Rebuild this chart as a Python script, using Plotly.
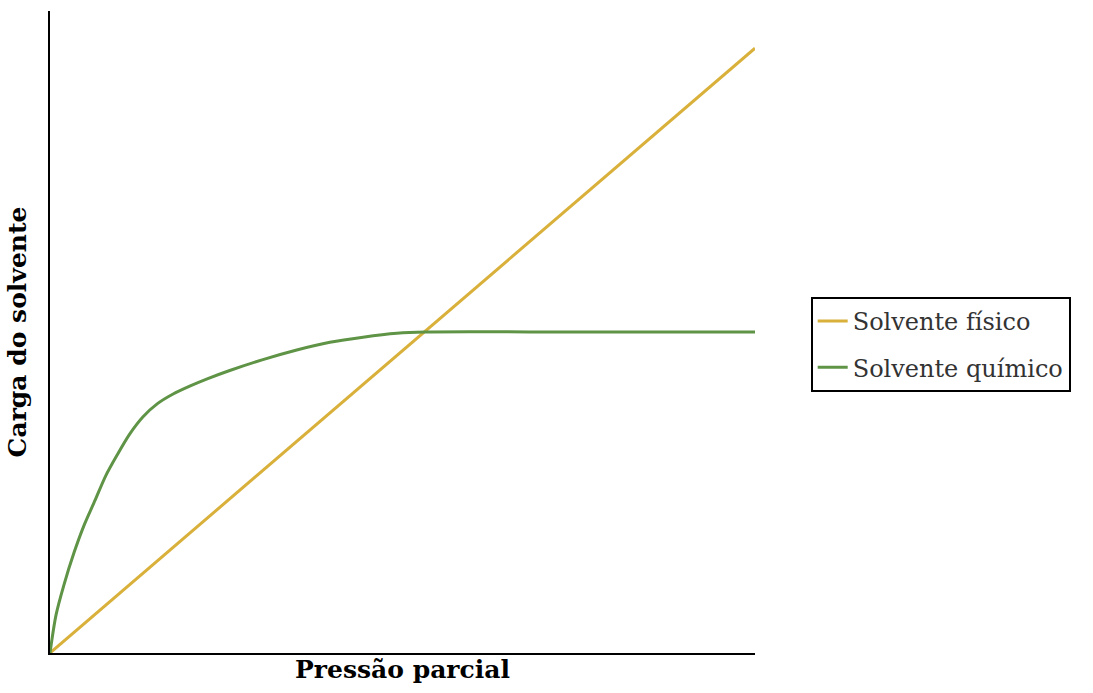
import plotly.graph_objects as go

# Data (arbitrary units, axes have no ticks)
fisico_x = [0, 10.0]
fisico_y = [0, 9.42]

quimico_x = [0, 0.085, 0.20, 0.34, 0.48, 0.64, 0.79, 0.95, 1.13, 1.32, 1.52, 1.74, 1.99,
             2.23, 2.55, 3.02, 3.50, 3.97, 4.44, 4.92, 5.32, 7.5, 10.0]
quimico_y = [0, 0.59, 1.07, 1.56, 1.98, 2.38, 2.76, 3.08, 3.41, 3.68, 3.88, 4.03, 4.16,
             4.27, 4.40, 4.57, 4.72, 4.84, 4.92, 4.98, 5.0, 5.0, 5.0]

series_names = ["Solvente físico", "Solvente químico"]
x_title = "Pressão parcial"
y_title = "Carga do solvente"

yellow = "#D8B03A"
green = "#5F9446"

fig = go.Figure()
fig.add_trace(go.Scatter(x=fisico_x, y=fisico_y, mode="lines", name=series_names[0],
                         legendgroup="a",
                         line=dict(color=yellow, width=3)))
fig.add_trace(go.Scatter(x=quimico_x, y=quimico_y, mode="lines", name=series_names[1],
                         legendgroup="b",
                         line=dict(color=green, width=3, shape="spline", smoothing=0.8)))

title_font = dict(family="DejaVu Serif", size=25, color="black")

fig.update_layout(
    width=1093, height=693,
    margin=dict(l=50, r=338, t=11, b=40, autoexpand=False),
    paper_bgcolor="white", plot_bgcolor="white",
    showlegend=True,
    legend=dict(x=1.079, y=0.5545, xanchor="left", yanchor="top",
                bordercolor="black", borderwidth=2, bgcolor="white",
                font=dict(family="DejaVu Serif", size=24, color="#333"),
                traceorder="grouped", tracegroupgap=12, itemwidth=30),
    xaxis=dict(range=[0, 10], showgrid=False, zeroline=False, showticklabels=False,
               ticks="", showline=True, linecolor="black", linewidth=2,
               title=dict(text=f"<b>{x_title}</b>", font=title_font, standoff=6)),
    yaxis=dict(range=[0, 10], showgrid=False, zeroline=False, showticklabels=False,
               ticks="", showline=True, linecolor="black", linewidth=2,
               title=dict(text=f"<b>{y_title}</b>", font=title_font, standoff=14)),
)

fig.write_html("out.html", config={"displayModeBar": False},
               post_script="document.body.style.margin='0';")
